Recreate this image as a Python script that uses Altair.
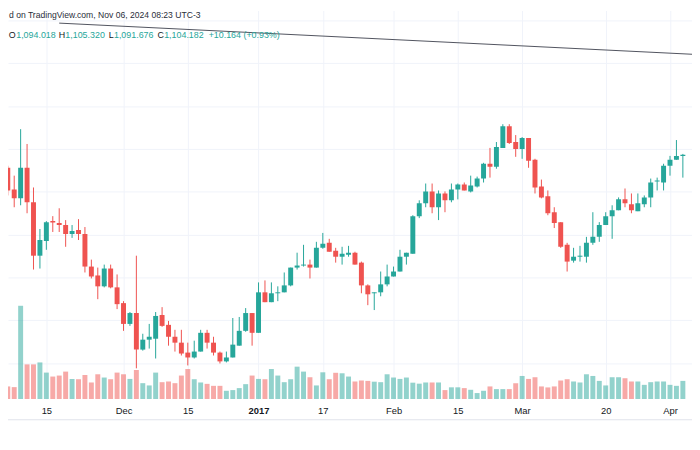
import altair as alt
import pandas as pd

# ---------------- data ----------------
opens = [1078.0, 1052.7, 1042.3, 1078.0, 1037.7, 975.3, 992.6, 1015.7, 1013.4, 1011.1,
         1000.7, 1005.3, 1000.7, 962.6, 952.2, 939.5, 960.3, 938.3, 919.9, 895.6,
         908.3, 865.6, 877.2, 878.3, 906.0, 894.5, 880.6, 873.7, 862.1, 856.4,
         863.3, 885.2, 873.7, 862.1, 851.8, 856.4, 870.2, 887.5, 908.3, 885.2,
         932.5, 921.0, 931.4, 932.5, 940.6, 961.4, 963.8, 964.9, 961.4, 984.5,
         990.3, 981.1, 974.1, 976.4, 978.8, 967.2, 940.6, 931.4, 932.5, 941.8,
         951.0, 956.8, 974.1, 977.6, 1021.5, 1036.5, 1050.4, 1031.9, 1048.0, 1040.0,
         1052.7, 1058.4, 1050.4, 1056.1, 1065.4, 1082.7, 1079.2, 1101.2, 1126.6, 1108.1,
         1100.0, 1112.7, 1087.3, 1056.1, 1044.6, 1026.1, 1014.5, 988.0, 969.5, 974.1,
         974.1, 990.3, 997.3, 1011.1, 1021.5, 1028.4, 1041.1, 1035.3, 1027.3, 1035.3,
         1043.4, 1061.9, 1060.8, 1080.4, 1087.3, 1091.9]
highs = [1080.4, 1068.8, 1123.1, 1105.8, 1055.0, 1006.5, 1015.7, 1021.5, 1030.7, 1016.9,
         1011.1, 1018.0, 1008.8, 970.7, 961.4, 964.9, 964.9, 953.4, 922.2, 909.5,
         975.3, 884.1, 895.6, 909.5, 915.2, 899.1, 888.7, 888.7, 873.7, 876.0,
         888.7, 888.7, 880.6, 863.3, 863.3, 902.5, 903.7, 914.1, 908.3, 944.1,
         946.4, 944.1, 939.5, 955.7, 961.4, 978.8, 988.0, 970.7, 991.5, 1001.9,
         995.0, 984.5, 985.7, 986.8, 979.9, 968.4, 941.8, 932.5, 956.8, 964.9,
         962.6, 982.2, 978.8, 1022.6, 1040.0, 1059.6, 1059.6, 1051.5, 1050.4, 1059.6,
         1059.6, 1060.8, 1068.8, 1067.7, 1083.8, 1101.2, 1108.1, 1128.9, 1128.9, 1116.2,
         1113.9, 1112.7, 1088.5, 1064.2, 1051.5, 1031.9, 1014.5, 990.3, 984.5, 986.8,
         997.3, 1026.1, 1014.5, 1026.1, 1034.2, 1043.4, 1053.8, 1048.0, 1048.0, 1045.7,
         1065.4, 1066.5, 1082.7, 1091.9, 1110.4, 1094.2]
lows = [1045.7, 1031.9, 1034.2, 1024.9, 959.1, 960.3, 982.2, 1003.0, 1003.0, 985.7,
        996.1, 993.6, 955.7, 948.7, 924.5, 938.3, 937.2, 912.9, 887.5, 893.3,
        843.7, 864.4, 866.8, 855.2, 892.2, 870.2, 863.3, 858.7, 847.1, 855.2,
        863.3, 866.8, 858.7, 849.4, 850.6, 856.4, 870.2, 886.4, 870.2, 885.2,
        921.0, 921.0, 922.2, 932.5, 939.5, 959.1, 962.6, 948.7, 961.4, 983.4,
        979.9, 967.2, 964.9, 974.1, 964.9, 931.4, 917.5, 911.8, 927.9, 939.5,
        951.0, 956.8, 964.9, 977.6, 1019.2, 1031.9, 1024.9, 1016.9, 1026.1, 1037.7,
        1041.1, 1051.5, 1049.2, 1055.0, 1060.8, 1066.5, 1076.9, 1101.2, 1105.8, 1090.8,
        1088.5, 1078.0, 1048.0, 1042.3, 1022.6, 1007.6, 984.5, 956.8, 967.2, 968.4,
        967.2, 988.0, 991.5, 1011.1, 995.0, 1028.4, 1031.9, 1024.9, 1027.3, 1031.9,
        1031.9, 1051.5, 1051.5, 1068.8, 1087.3, 1066.5]
closes = [1051.5, 1042.3, 1078.0, 1037.7, 975.3, 993.6, 1014.5, 1014.0, 1011.1, 1000.7,
          1004.2, 1000.7, 962.6, 951.0, 939.5, 960.3, 938.3, 918.7, 895.6, 908.3,
          865.6, 877.2, 880.6, 904.9, 893.3, 880.6, 873.7, 861.0, 856.4, 863.3,
          885.2, 873.7, 862.1, 851.8, 856.4, 871.4, 887.5, 908.3, 885.2, 932.5,
          921.0, 931.4, 932.5, 940.6, 961.4, 963.8, 964.9, 961.4, 984.5, 989.2,
          979.9, 974.1, 977.6, 978.8, 964.9, 940.6, 930.2, 932.5, 941.8, 951.0,
          956.8, 974.1, 978.8, 1021.5, 1036.5, 1050.4, 1031.9, 1048.0, 1040.0, 1052.7,
          1058.4, 1051.5, 1057.3, 1065.4, 1082.7, 1079.2, 1102.3, 1126.6, 1106.9, 1100.0,
          1112.7, 1086.2, 1055.0, 1043.4, 1024.9, 1013.4, 985.7, 968.4, 974.1, 975.3,
          990.3, 997.3, 1011.1, 1021.5, 1028.4, 1041.1, 1036.5, 1028.4, 1036.5, 1043.4,
          1060.8, 1063.1, 1080.4, 1087.3, 1091.9, 1093.1]
volumes = [127, 120, 943, 350, 350, 370, 267, 227, 237, 277,
           203, 200, 243, 167, 250, 217, 200, 267, 250, 203,
           293, 160, 137, 267, 170, 177, 160, 237, 303, 200,
           167, 153, 133, 133, 83, 90, 110, 150, 237, 203,
           200, 303, 237, 170, 200, 327, 277, 220, 137, 270,
           200, 265, 260, 227, 177, 187, 183, 175, 170, 250,
           217, 203, 217, 165, 155, 167, 167, 167, 90, 118,
           118, 110, 93, 60, 83, 127, 100, 100, 100, 160,
           233, 203, 220, 127, 117, 127, 187, 200, 177, 167,
           250, 233, 183, 137, 220, 220, 210, 177, 177, 143,
           170, 177, 177, 143, 133, 183]

tick_index = [6, 18, 28, 39, 49, 60, 70, 80, 93, 103]
tick_labels = ["15", "Dec", "15", "2017", "17", "Feb", "15", "Mar", "20", "Apr"]
year_tick = 39
grid_prices = [850, 900, 950, 1000, 1050, 1100, 1150, 1200, 1250]

trend_index = [8, 107]
trend_price = [1247.0, 1210.4]

header_line1 = "d on TradingView.com, Nov 06, 2024 08:23 UTC-3"
legend_names = ["O", "H", "L", "C"]
legend_values = ["1,094.018", "1,105.320", "1,091.676", "1,104.182"]
legend_change = "+10.164 (+0.93%)"

# ---------------- layout / style ----------------
W, H = 692, 393
FONT = "Liberation Sans"
UP, DOWN = "#26a69a", "#ef5350"
GRID = "#f0f3fa"
TXT = "#131722"
price_domain = [807.9, 1261.7]
x_domain = [0.803, 105.652]
vol_domain = [0, 3930]

df = pd.DataFrame({"i": list(range(len(opens))), "o": opens, "h": highs,
                   "l": lows, "c": closes, "v": volumes})

label_expr = "[{}][indexof([{}], datum.value)]".format(
    ",".join("'%s'" % t for t in tick_labels), ",".join(str(t) for t in tick_index))

x_axis = alt.Axis(values=tick_index, labelExpr=label_expr, grid=True, gridColor=GRID,
                  gridWidth=1, domain=False, ticks=False, labelPadding=11.5,
                  labelBaseline="middle", labelFont=FONT, labelFontSize=9.5,
                  labelColor=TXT, labelFlush=False, labelOverlap=False, title=None,
                  labelFontWeight={"condition": {"test": "datum.value == %d" % year_tick,
                                                 "value": "bold"}, "value": "normal"})
X = alt.X("i:Q", scale=alt.Scale(domain=x_domain, nice=False, zero=False), axis=x_axis)
pscale = alt.Scale(domain=price_domain, nice=False, zero=False)
up_color = alt.condition("datum.c >= datum.o", alt.value(UP), alt.value(DOWN))

base = alt.Chart(df)

vol = base.mark_bar(size=5, opacity=0.5, clip=True).encode(
    x=X,
    y=alt.Y("v:Q", scale=alt.Scale(domain=vol_domain, nice=False), axis=None),
    y2=alt.datum(0),
    color=up_color,
)

wick = base.mark_rule(strokeWidth=1, clip=True).encode(
    x=X,
    y=alt.Y("l:Q", scale=pscale, axis=None),
    y2="h:Q",
    color=up_color,
)

body = base.mark_bar(size=5, clip=True).encode(
    x=X,
    y=alt.Y("o:Q", scale=pscale,
            axis=alt.Axis(values=grid_prices, grid=True, gridColor=GRID, labels=False,
                          ticks=False, domain=False, title=None, orient="right")),
    y2="c:Q",
    color=up_color,
)

trend = alt.Chart(pd.DataFrame({"i": trend_index, "p": trend_price})).mark_line(
    color="#50535e", strokeWidth=1, clip=True).encode(
    x=X, y=alt.Y("p:Q", scale=pscale, axis=None))

bottom_line = alt.Chart(pd.DataFrame({"k": [0]})).mark_rule(
    color="#e0e3eb", strokeWidth=1).encode(
    x=alt.value(0), x2=alt.value(W), y=alt.value(414))


def text_layer(txt, px, py, color, size=9):
    return alt.Chart(pd.DataFrame({"t": [txt]})).mark_text(
        align="left", baseline="middle", font=FONT, fontSize=size, color=color).encode(
        x=alt.value(px), y=alt.value(py), text="t:N")


texts = [text_layer(header_line1, 1, 4.7, "#2a2e39", size=8.7)]
name_x = [0.8, 51.3, 102, 151.3]
val_x = [8.3, 58.0, 107.2, 158.0]
for n, v, nx, vx in zip(legend_names, legend_values, name_x, val_x):
    texts.append(text_layer(n, nx, 25, TXT))
    texts.append(text_layer(v, vx, 25, UP))
texts.append(text_layer(legend_change, 203, 25, UP))

chart = alt.layer(vol, wick, body, trend, bottom_line, *texts).resolve_scale(
    y="independent"
).properties(
    width=W, height=H, autosize=alt.AutoSizeParams(type="none"),
    padding={"left": 0, "top": 0, "right": 0, "bottom": 45},
    background="white",
).configure_view(strokeWidth=0)

chart.save("out.html", embed_options={"renderer": "svg", "actions": False})
